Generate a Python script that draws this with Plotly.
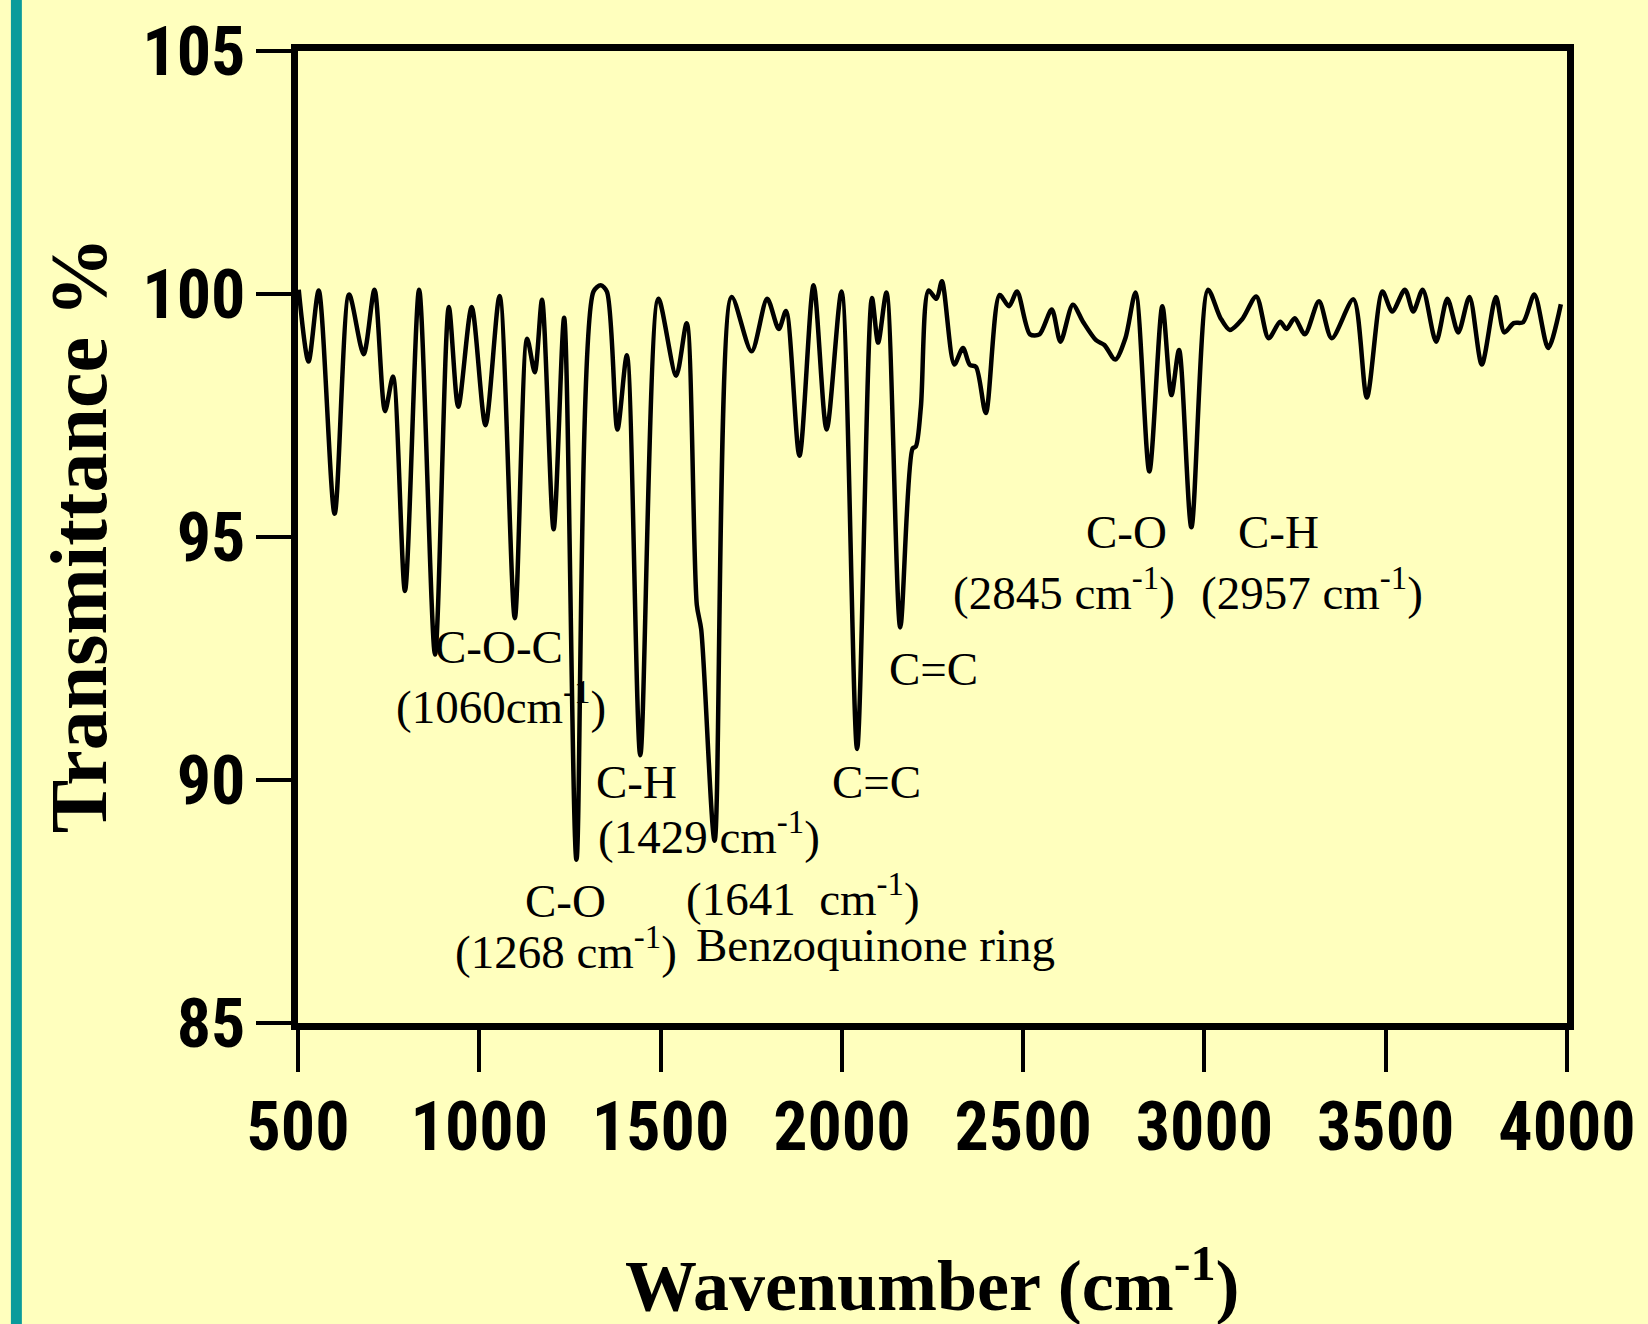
import plotly.graph_objects as go

# FTIR spectrum values
wavenumber = [502, 529, 557, 601, 641, 681, 711, 740, 762, 795, 834, 878, 916, 942, 979,
              1017, 1056, 1098, 1132, 1153, 1173, 1205, 1234, 1268, 1315, 1335, 1352, 1381,
              1407, 1444, 1494, 1543, 1572, 1600, 1612, 1649, 1696, 1751, 1794, 1826, 1846,
              1883, 1922, 1958, 1999, 2042, 2083, 2100, 2123, 2161, 2195, 2204, 2218, 2239,
              2261, 2276, 2310, 2334, 2353, 2370, 2397, 2435, 2461, 2483, 2519, 2545, 2579,
              2603, 2637, 2665, 2701, 2724, 2754, 2782, 2810, 2848, 2884, 2909, 2930, 2964,
              3010, 3044, 3070, 3104, 3143, 3177, 3209, 3226, 3249, 3277, 3316, 3351, 3411,
              3448, 3491, 3518, 3553, 3576, 3602, 3639, 3670, 3700, 3731, 3765, 3804, 3827,
              3853, 3879, 3910, 3948, 3983]
transmittance = [100.09, 98.61, 100.07, 95.48, 99.99, 98.76, 100.09, 97.59, 98.30, 93.89,
                 100.09, 92.58, 99.73, 97.68, 99.73, 97.30, 99.96, 93.33, 99.08, 98.39,
                 99.88, 95.16, 99.51, 88.36, 100.05, 100.18, 100.05, 97.21, 98.74, 90.51,
                 99.90, 98.32, 99.40, 93.6, 93.1, 88.75, 99.94, 98.82, 99.90, 99.28, 99.65,
                 96.67, 100.18, 97.21, 100.05, 90.64, 99.92, 99.00, 100.03, 93.14, 96.82,
                 96.86, 97.68, 100.07, 99.90, 100.26, 98.55, 98.89, 98.54, 98.50, 97.55,
                 99.98, 99.75, 100.05, 99.17, 99.17, 99.68, 99.02, 99.78, 99.43, 99.05,
                 98.95, 98.65, 99.09, 100.03, 96.35, 99.75, 97.92, 98.85, 95.20, 100.09,
                 99.51, 99.26, 99.48, 99.95, 99.09, 99.43, 99.28, 99.50, 99.17, 99.85,
                 99.09, 99.89, 97.87, 100.05, 99.64, 100.09, 99.64, 100.09, 99.02, 99.90,
                 99.21, 99.94, 98.55, 99.94, 99.21, 99.40, 99.42, 99.99, 98.89, 99.79]

x_ticks = [500, 1000, 1500, 2000, 2500, 3000, 3500, 4000]
y_ticks = [85, 90, 95, 100, 105]

# peak labels: (text, wavenumber position, transmittance position)
label_texts = ["C-O-C", "(1060cm<sup>-1</sup>)", "C-H", "(1429 cm<sup>-1</sup>)", "C-O",
               "(1268 cm<sup>-1</sup>)", "(1641  cm<sup>-1</sup>)", "Benzoquinone ring",
               "C=C", "C=C", "C-O", "(2845 cm<sup>-1</sup>)", "C-H", "(2957 cm<sup>-1</sup>)"]
label_x = [1054, 1059, 1434, 1633, 1239, 1239, 1892, 2093, 2096, 2253, 2785, 2614, 3204, 3297]
label_y = [92.74, 91.58, 89.96, 88.89, 87.51, 86.54, 87.63, 86.60, 89.96, 92.28, 95.10, 93.91,
           95.10, 93.91]

BG = "#FFFFBE"
W, H = 1648, 1324
L, R, T, B = 298, 77, 46, 301
pw, ph = W - L - R, H - T - B

fig = go.Figure()
fig.add_trace(go.Scatter(
    x=wavenumber, y=transmittance, mode="lines",
    line=dict(color="black", width=4.5, shape="spline", smoothing=0.8),
    showlegend=False, hoverinfo="skip"))

tick_font = dict(family="Liberation Sans Narrow, Roboto Condensed, DejaVu Sans Condensed, sans-serif",
                 size=68, color="black", weight="bold")

fig.update_layout(
    width=W, height=H,
    margin=dict(l=L, r=R, t=T, b=B, pad=0),
    paper_bgcolor=BG, plot_bgcolor=BG,
    xaxis=dict(range=[500, 4000], tickvals=x_ticks, ticks="outside", ticklen=42,
               tickwidth=4, tickcolor="black", showline=True, linewidth=7,
               linecolor="black", mirror=True, showgrid=False, zeroline=False,
               tickfont=tick_font, tickangle=0, ticklabelstandoff=-4),
    yaxis=dict(range=[85, 105], tickvals=y_ticks, ticks="outside", ticklen=35,
               tickwidth=4, tickcolor="black", showline=True, linewidth=7,
               linecolor="black", mirror=True, showgrid=False, zeroline=False,
               tickfont=tick_font, ticklabelstandoff=-3),
)

serif = "Liberation Serif, Times New Roman, serif"
for t, xv, yv in zip(label_texts, label_x, label_y):
    fig.add_annotation(x=xv, y=yv, xref="x", yref="y", text=t, showarrow=False,
                       font=dict(family=serif, size=47, color="black"),
                       xanchor="center", yanchor="middle")

# axis titles
fig.add_annotation(xref="paper", yref="paper", x=(935 - L) / pw, y=(H - B - 1282) / ph,
                   text="<b>Wavenumber (cm<sup>-1</sup>)</b>", showarrow=False,
                   font=dict(family=serif, size=72, color="black"),
                   xanchor="center", yanchor="middle")
fig.add_annotation(xref="paper", yref="paper", x=(78 - L) / pw, y=(H - B - 533) / ph,
                   text="<b>Transmittance %</b>", showarrow=False, textangle=-90,
                   font=dict(family=serif, size=80, color="black"),
                   xanchor="center", yanchor="middle")

# teal stripe at the left edge of the slide
fig.add_shape(type="rect", xref="paper", yref="paper",
              x0=(10 - L) / pw, x1=(21 - L) / pw, y0=-B / ph - 0.01, y1=(H - B) / ph + 0.01,
              fillcolor="#0A9B9B", line=dict(width=0), layer="below")

fig.write_html("out.html")
